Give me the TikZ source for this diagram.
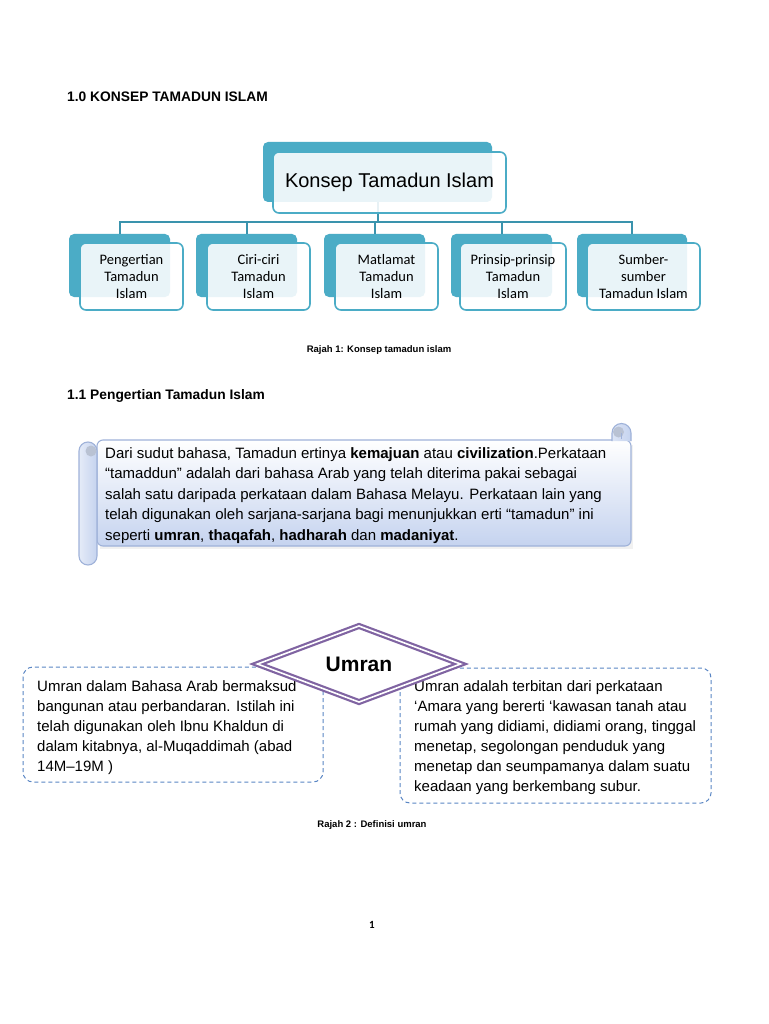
\documentclass[tikz,border=0pt]{standalone}
\usepackage{fontspec}
\setmainfont{Liberation Sans}
\newfontfamily\calfont{Carlito}
\usetikzlibrary{shapes.geometric}
\definecolor{tealback}{HTML}{4BACC6}
\definecolor{tealline}{HTML}{3A93AD}
\definecolor{scrollb}{HTML}{C5D3EF}
\definecolor{scrollline}{HTML}{9FB2D9}
\definecolor{rollgrey}{HTML}{B9C2D3}
\definecolor{dashb}{HTML}{5A86C4}
\definecolor{umcol}{HTML}{8064A2}
\tikzset{
  backbox/.style={draw=none, fill=tealback, rounded corners=5pt, inner sep=0pt},
  frontbox/.style={draw=tealback, line width=1.6pt, fill=white, fill opacity=0.88, text opacity=1, rounded corners=6pt, inner sep=0pt, align=center},
  smalltext/.style={font=\calfont\fontsize{14.5}{17}\selectfont},
  conn/.style={draw=tealline, line width=2pt},
  dashbox/.style={draw=dashb, line width=1pt, dash pattern=on 4pt off 3pt, rounded corners=10pt},
  bodytext/.style={anchor=north west, inner sep=0pt, align=left, font=\fontsize{15}{20.5}\selectfont},
  heading/.style={anchor=base west, inner sep=0pt, font=\bfseries\fontsize{13.8}{16}\selectfont},
  caption/.style={anchor=base, inner sep=0pt, font=\bfseries\fontsize{9.5}{11}\selectfont},
  scrollpart/.style={draw=scrollline, line width=1.1pt},
}
\begin{document}
\begin{tikzpicture}[x=1pt,y=-1pt]
\useasboundingbox[fill=white] (0,0) rectangle (768,1024);

% headings
\node[heading] (h1) at (67,102) {1.0 KONSEP TAMADUN ISLAM};

% top box
\node[backbox, minimum width=229pt, minimum height=60pt] (b0) at (377.5,172) {};
% small back boxes
\node[backbox, minimum width=101pt, minimum height=63pt] (b1) at (119.5,265.5) {};
\node[backbox, minimum width=101pt, minimum height=63pt] (b2) at (246.5,265.5) {};
\node[backbox, minimum width=101pt, minimum height=63pt] (b3) at (374.5,265.5) {};
\node[backbox, minimum width=101pt, minimum height=63pt] (b4) at (501.5,265.5) {};
\node[backbox, minimum width=110pt, minimum height=63pt] (b5) at (632,265.5) {};

% connectors
\coordinate (hub) at (377.5,222);
\draw[conn] (b0.south) -- (hub);
\draw[conn] (hub) -| (b1.north);
\draw[conn] (hub) -| (b2.north);
\draw[conn] (hub) -| (b3.north);
\draw[conn] (hub) -| (b4.north);
\draw[conn] (hub) -| (b5.north);

% front boxes
\node[frontbox, minimum width=233pt, minimum height=61pt, font=\fontsize{20}{24}\selectfont] (f0) at (389.5,182.5) {Konsep Tamadun Islam};
\node[frontbox, smalltext, minimum width=103pt, minimum height=67pt] (f1) at (131.5,276.5) {Pengertian\\Tamadun\\Islam};
\node[frontbox, smalltext, minimum width=103pt, minimum height=67pt] (f2) at (258.5,276.5) {Ciri-ciri\\Tamadun\\Islam};
\node[frontbox, smalltext, minimum width=103pt, minimum height=67pt] (f3) at (386.5,276.5) {Matlamat\\Tamadun\\Islam};
\node[frontbox, smalltext, minimum width=106pt, minimum height=67pt] (f4) at (513,276.5) {Prinsip-prinsip\\Tamadun\\Islam};
\node[frontbox, smalltext, minimum width=113pt, minimum height=67pt] (f5) at (643.5,276.5) {Sumber-\\sumber\\Tamadun Islam};

\node[caption] (c1) at (379,352.5) {Rajah 1: Konsep tamadun islam};

\node[heading] (h2) at (67,399) {1.1 Pengertian Tamadun Islam};

% scroll
\fill[black!15, opacity=0.35] (100,445) rectangle (633,549);
\path[scrollpart, top color=white, bottom color=scrollb, rounded corners=6pt] (97,440) rectangle (631,546);
\path[scrollpart, left color=scrollb!60, right color=scrollb] (612,441) -- (612,433) arc[start angle=180, end angle=360, radius=9.5] -- (631,441);
\fill[rollgrey] (618.5,432) circle (5.5);
\draw[scrollline, line width=0.9pt] (621,439) -- (621,433);
\path[scrollpart, left color=scrollb!45, right color=scrollb] (79,451) arc[start angle=180, end angle=360, radius=9] -- (97,556) arc[start angle=0, end angle=180, radius=9] -- cycle;
\fill[rollgrey] (91,451) circle (5.5);
\node[bodytext] (scrolltext) at (105,447) {Dari sudut bahasa, Tamadun ertinya \textbf{kemajuan} atau \textbf{civilization}.Perkataan\\
“tamaddun” adalah dari bahasa Arab yang telah diterima pakai sebagai\\
salah satu daripada perkataan dalam Bahasa Melayu. Perkataan lain yang\\
telah digunakan oleh sarjana-sarjana bagi menunjukkan erti “tamadun” ini\\
seperti \textbf{umran}, \textbf{thaqafah}, \textbf{hadharah} dan \textbf{madaniyat}.};

% umran
\draw[dashbox] (23,667) rectangle (323,782);
\draw[dashbox] (400,668) rectangle (711,803);
\node[bodytext, font=\fontsize{15}{20}\selectfont] (lefttext) at (37,680) {Umran dalam Bahasa Arab bermaksud\\
bangunan atau perbandaran. Istilah ini\\
telah digunakan oleh Ibnu Khaldun di\\
dalam kitabnya, al-Muqaddimah (abad\\
14M–19M )};
\node[bodytext, font=\fontsize{15}{20}\selectfont] (righttext) at (414,680) {Umran adalah terbitan dari perkataan\\
‘Amara yang bererti ‘kawasan tanah atau\\
rumah yang didiami, didiami orang, tinggal\\
menetap, segolongan penduduk yang\\
menetap dan seumpamanya dalam suatu\\
keadaan yang berkembang subur.};
\node[diamond, draw=umcol, line width=2.2pt, double=white, double distance=1.6pt, fill=white, minimum width=204pt, minimum height=77pt, aspect=2.6, inner sep=0pt, font=\bfseries\fontsize{21}{24}\selectfont] (umran) at (359,664) {Umran};

\node[caption] (c2) at (372,827.5) {Rajah 2 : Definisi umran};

\node[anchor=base, inner sep=0pt, font=\calfont\bfseries\fontsize{11}{13}\selectfont] (pg) at (372,928) {1};
\end{tikzpicture}
\end{document}
